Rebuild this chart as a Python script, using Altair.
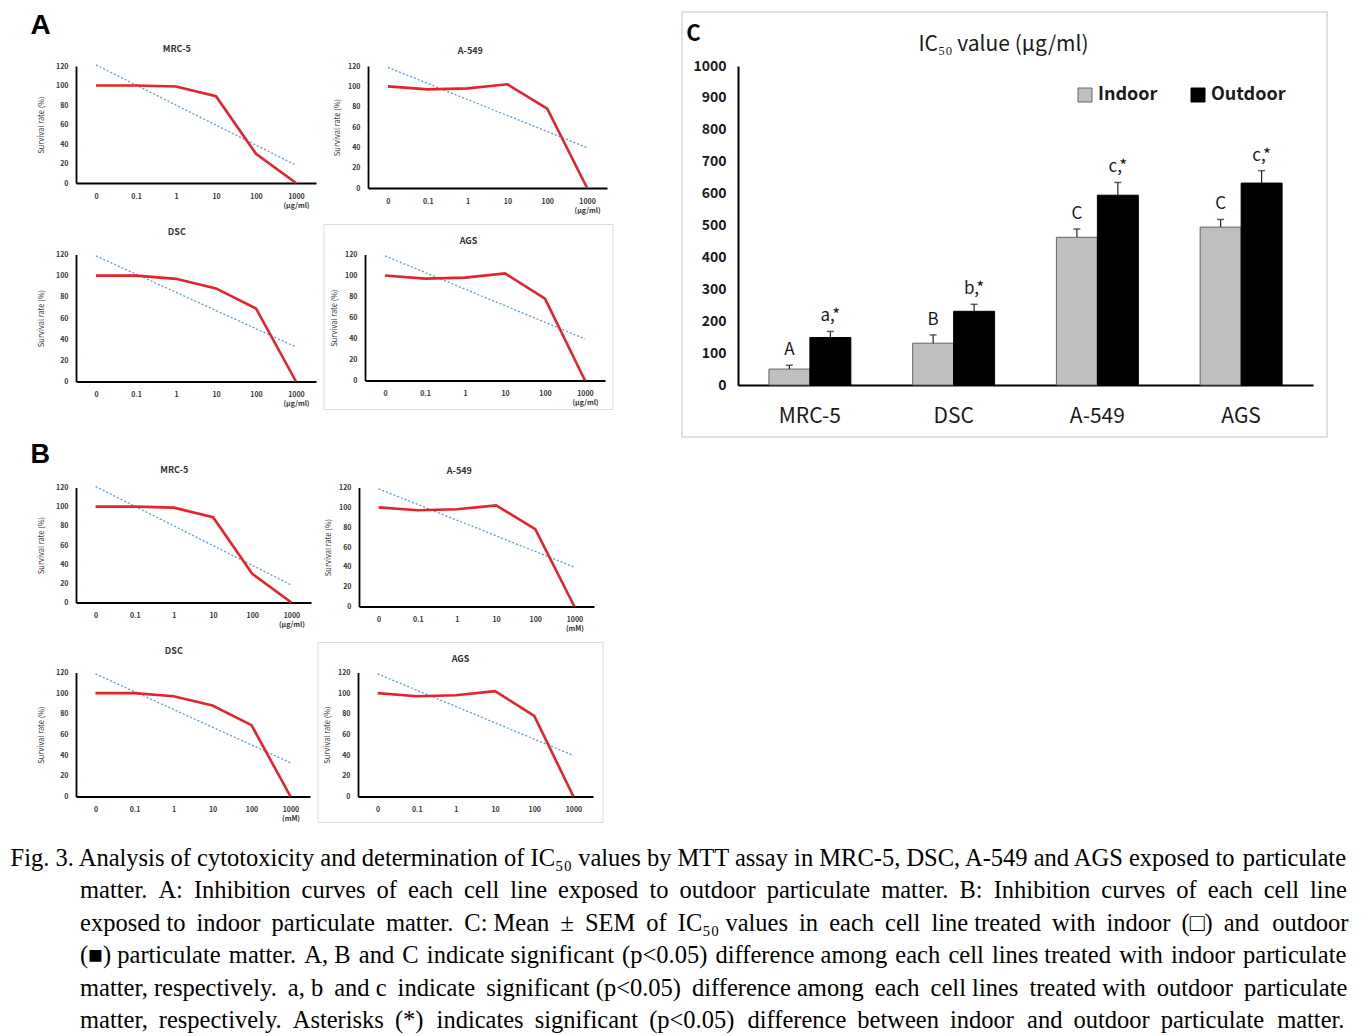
import json
import altair as alt
import pandas as pd

# ---------------- data ----------------
doses = ["0", "0.1", "1", "10", "100", "1000"]
dose_index = [1, 2, 3, 4, 5, 6]
survival_mrc5 = [100, 100, 99, 89, 30, 0]
survival_a549 = [100, 97, 98, 102, 78, 0]
survival_dsc = [100, 100, 97, 88, 69, 0]
survival_ags = [100, 97, 98, 102, 78, 0]
survival_ticks = [0, 20, 40, 60, 80, 100, 120]
unit_ug = "(µg/ml)"
unit_mm = "(mM)"

ic50_cells = ["MRC-5", "DSC", "A-549", "AGS"]
ic50_groups = ["Indoor", "Outdoor"]
ic50_indoor = [50, 131, 463, 495]
ic50_indoor_sem = [12, 26, 26, 24]
ic50_outdoor = [149, 231, 595, 633]
ic50_outdoor_sem = [19, 22, 40, 39]
ic50_indoor_sig = ["A", "B", "C", "C"]
ic50_outdoor_sig = ["a,*", "b,*", "c,*", "c,*"]
ic50_ticks = [0, 100, 200, 300, 400, 500, 600, 700, 800, 900, 1000]

caption_label = "Fig. 3."
caption_lines = [
    "Analysis of cytotoxicity and determination of IC₅₀ values by MTT assay in MRC-5, DSC, A-549 and AGS exposed to particulate",
    "matter. A: Inhibition curves of each cell line exposed to outdoor particulate matter. B: Inhibition curves of each cell line",
    "exposed to indoor particulate matter. C: Mean ± SEM of IC₅₀ values in each cell line treated with indoor (□) and outdoor",
    "(■) particulate matter. A, B and C indicate significant (p<0.05) difference among each cell lines treated with indoor particulate",
    "matter, respectively. a, b and c indicate significant (p<0.05) difference among each cell lines treated with outdoor particulate",
    "matter, respectively. Asterisks (*) indicates significant (p<0.05) difference between indoor and outdoor particulate matter.",
]

# ---------------- styles ----------------
FONT_K = "Noto Sans CJK KR"
FONT_LETTER = "Liberation Sans"
FONT_CAPTION = "Liberation Serif"
RED = "#e3242b"
BLUE = "#5b9bd5"
TXT = "#333333"

# extra (thin, hair) spaces spread over the word gaps of each caption line: approximates justification
CAPTION_FILL = [(0, 1), (19, 0), (17, 1), (0, 13), (10, 0), (13, 4)]
INDENT = "\u200b" + "\u00a0" * 11 + "\u200a"


def spread(n, gaps):
    return [((g + 1) * n) // gaps - (g * n) // gaps for g in range(gaps)]


def justify(line, n_thin, n_hair):
    words = line.split(" ")
    gaps = len(words) - 1
    thin, hair = spread(n_thin, gaps), spread(n_hair, gaps)
    out = words[0]
    for g in range(gaps):
        out += " " + "\u2009" * thin[g] + "\u200a" * hair[g] + words[g + 1]
    return out


def caption_text():
    out = []
    for i, line in enumerate(caption_lines):
        body = justify(line, *CAPTION_FILL[i])
        out.append((caption_label + " " + body) if i == 0 else (INDENT + body))
    return out


def survival_panel(name, values, unit, width, height, title_offset, title_pad, box=None):
    df = pd.DataFrame({"dose_idx": dose_index, "dose": doses, "survival": values})
    arr = json.dumps(doses, ensure_ascii=False)
    if unit:
        last = json.dumps([doses[-1], unit], ensure_ascii=False)
        expr = f"datum.value == {dose_index[-1]} ? {last} : {arr}[datum.value - 1]"
    else:
        expr = f"{arr}[datum.value - 1]"
    x_enc = alt.X(
        "dose_idx:Q",
        scale=alt.Scale(domain=[0.5, 6.5], nice=False, zero=False),
        axis=alt.Axis(values=dose_index, labelExpr=expr, title=None, grid=False, ticks=False,
                      labelFont=FONT_K, labelFontSize=7, labelFontWeight="bold", labelColor=TXT,
                      labelPadding=9, labelLineHeight=9, labelFlush=False, labelOverlap=False,
                      domainColor="#000000", domainWidth=1.8),
    )
    y_enc = alt.Y(
        "survival:Q",
        scale=alt.Scale(domain=[0, 120], nice=False),
        axis=alt.Axis(values=survival_ticks, title="Survival rate (%)", grid=False, ticks=False,
                      labelFont=FONT_K, labelFontSize=7, labelFontWeight="bold", labelColor=TXT,
                      labelPadding=8, titleFont=FONT_K, titleFontSize=7.5, titleFontWeight="normal",
                      titleColor=TXT, titlePadding=title_pad,
                      domainColor="#000000", domainWidth=1.8),
    )
    base = alt.Chart(df).encode(x=x_enc, y=y_enc)
    trend = base.transform_regression("dose_idx", "survival").mark_line(
        color=BLUE, strokeDash=[2, 2], strokeWidth=1.3)
    curve = base.mark_line(color=RED, strokeWidth=2.6)
    layers = [trend, curve]
    if box is not None:
        bx, bx2, by, by2 = box
        frame = alt.Chart(pd.DataFrame({"frame": [0]})).mark_rect(
            filled=False, stroke="#dcdcdc", strokeWidth=1).encode(
            x=alt.value(bx), x2=alt.value(bx2), y=alt.value(by), y2=alt.value(by2))
        layers = [frame] + layers
    return alt.layer(*layers).properties(
        width=width, height=height,
        title=alt.TitleParams(name, font=FONT_K, fontSize=9, fontWeight="bold", color=TXT,
                              anchor="middle", frame="bounds", offset=title_offset),
    )


# ---- panel A (outdoor) ----
a_mrc5 = survival_panel("MRC-5", survival_mrc5, unit_ug, 240, 117, 8.5, 10)
a_a549 = survival_panel("A-549", survival_a549, unit_ug, 239, 122, 6.5, 6)
a_dsc = survival_panel("DSC", survival_dsc, unit_ug, 240, 127, 13.5, 10)
a_ags = survival_panel("AGS", survival_ags, unit_ug, 240, 126, -22, 6, box=(-41, 248, -30, 155))

# ---- panel B (indoor) ----
b_mrc5 = survival_panel("MRC-5", survival_mrc5, unit_ug, 235, 115, 8.5, 10)
b_a549 = survival_panel("A-549", survival_a549, unit_mm, 235, 119, 7.5, 6)
b_dsc = survival_panel("DSC", survival_dsc, unit_mm, 234, 124, 13, 10)
b_ags = survival_panel("AGS", survival_ags, None, 235, 124, -22, 6, box=(-40, 245, -30, 150))

letter_style = dict(anchor="start", frame="bounds", font=FONT_LETTER, fontWeight="bold", color="#000000")
block_a = alt.vconcat(
    alt.hconcat(a_mrc5, a_a549, spacing=17),
    alt.hconcat(a_dsc, a_ags, spacing=7),
    spacing=10.5,
    title=alt.TitleParams("A", fontSize=28, offset=4.5, dx=-7, **letter_style),
)
block_b = alt.vconcat(
    alt.hconcat(b_mrc5, b_a549, spacing=13),
    alt.hconcat(b_dsc, b_ags, spacing=7),
    spacing=10,
    title=alt.TitleParams("B", fontSize=27, offset=-3, dx=-7, **letter_style),
)
left_col = alt.vconcat(block_a, block_b, spacing=30.5)

# ---- panel C (IC50 bars) ----
ic50_df = pd.DataFrame({
    "cell": ic50_cells * 2,
    "group": [ic50_groups[0]] * len(ic50_cells) + [ic50_groups[1]] * len(ic50_cells),
    "mean": ic50_indoor + ic50_outdoor,
    "sem": ic50_indoor_sem + ic50_outdoor_sem,
    "sig": ic50_indoor_sig + ic50_outdoor_sig,
})
y_scale_c = alt.Scale(domain=[0, 1000], nice=False)
y_axis_c = alt.Axis(values=ic50_ticks, format="d", title="IC₅₀ value (µg/ml)", grid=False, ticks=False,
                    labelFont=FONT_K, labelFontSize=14, labelFontWeight="bold", labelColor="#1a1a1a",
                    labelPadding=12, domainColor="#000000", domainWidth=2,
                    titleFont=FONT_K, titleFontSize=21, titleFontWeight="normal", titleColor="#1a1a1a",
                    titleAngle=0, titleAlign="center", titleBaseline="middle", titleX=265, titleY=-22)
x_c = alt.X("cell:N", sort=ic50_cells,
            scale=alt.Scale(paddingInner=0.43, paddingOuter=0.215),
            axis=alt.Axis(title=None, labelAngle=0, ticks=False, grid=False, labelFont=FONT_K,
                          labelFontSize=21, labelColor="#1a1a1a", labelPadding=20,
                          domainColor="#000000", domainWidth=2))
base_c = alt.Chart(ic50_df).transform_calculate(top="datum.mean + datum.sem").encode(
    x=x_c, xOffset=alt.XOffset("group:N", sort=ic50_groups))

bars = base_c.mark_bar(strokeWidth=1).encode(
    y=alt.Y("mean:Q", scale=y_scale_c, axis=y_axis_c),
    fill=alt.Fill("group:N", sort=ic50_groups,
                  scale=alt.Scale(domain=ic50_groups, range=["#bfbfbf", "#000000"]),
                  legend=alt.Legend(title=None, orient="none", legendX=338, legendY=20,
                                    direction="horizontal", symbolType="square", symbolSize=196,
                                    symbolStrokeColor="#555555", symbolStrokeWidth=1,
                                    labelFont=FONT_K, labelFontSize=18, labelFontWeight="bold",
                                    labelColor="#1a1a1a", labelOffset=4, columnPadding=31, padding=0)),
    stroke=alt.Stroke("group:N", scale=alt.Scale(domain=ic50_groups, range=["#666666", "#000000"]),
                      legend=None),
)
err = base_c.mark_rule(color="#222222", strokeWidth=1.2).encode(
    y=alt.Y("mean:Q", scale=y_scale_c, axis=y_axis_c), y2="top:Q")
cap = base_c.mark_tick(color="#222222", orient="horizontal", size=7, thickness=1.5).encode(
    y=alt.Y("top:Q", scale=y_scale_c, axis=y_axis_c))
sig = base_c.mark_text(baseline="bottom", dy=-6, font=FONT_K, fontSize=17, color="#1a1a1a").encode(
    y=alt.Y("top:Q", scale=y_scale_c, axis=y_axis_c), text="sig:N")
c_frame = alt.Chart(pd.DataFrame({"frame": [0]})).mark_rect(
    filled=False, stroke="#d9d9d9", strokeWidth=1.5).encode(
    x=alt.value(-56), x2=alt.value(589), y=alt.value(-54), y2=alt.value(371))

ic50_chart = alt.layer(c_frame, bars, err, cap, sig).properties(
    width=575, height=319,
    title=alt.TitleParams("C", anchor="start", frame="bounds", font=FONT_K, fontSize=22,
                          fontWeight="bold", color="#000000", offset=-35, dx=5),
)

caption = alt.TitleParams(caption_text(), orient="bottom", anchor="start", frame="bounds",
                          font=FONT_CAPTION, fontSize=24.5, fontWeight="normal", color="#000000",
                          lineHeight=32.4, offset=24, dx=-20)

chart = alt.hconcat(left_col, ic50_chart, spacing=67).properties(
    title=caption,
    background="white",
    padding={"left": 2, "top": 3, "right": 4, "bottom": 4},
).resolve_legend(fill="independent", stroke="independent").configure_view(strokeWidth=0)

chart.save("out.html", embed_options={"renderer": "svg", "actions": False})
